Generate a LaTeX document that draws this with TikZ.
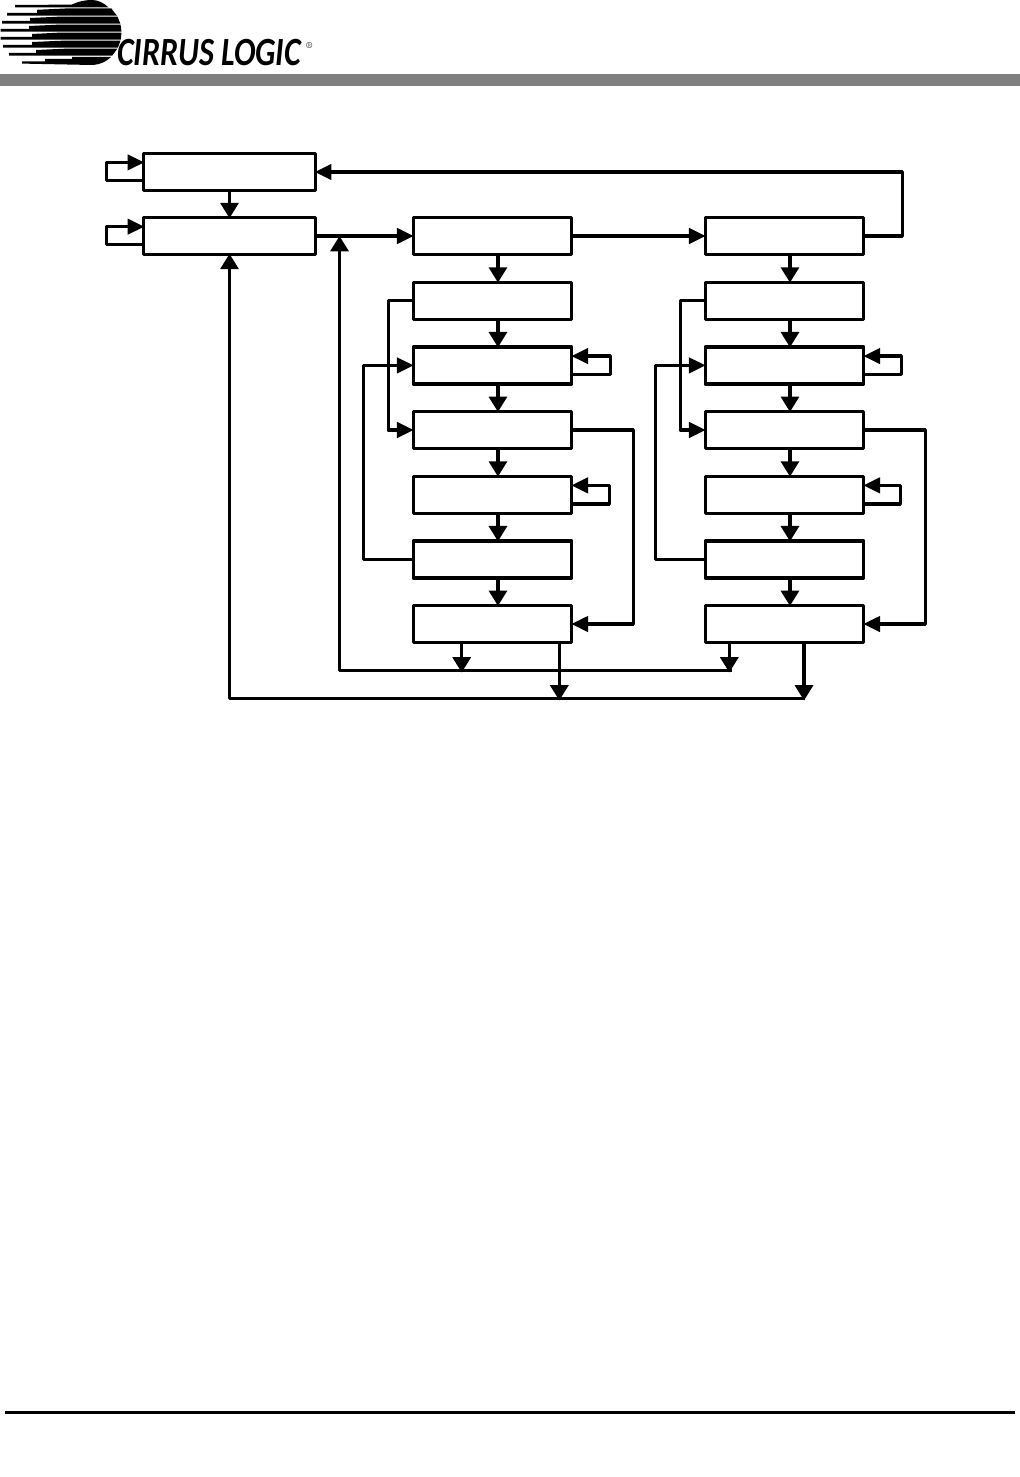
\documentclass[tikz,border=0pt]{standalone}
\usepackage{fontspec}
\usepackage{tikz}
\usetikzlibrary{arrows.meta}
\newfontfamily\logofont{Carlito}
\definecolor{bargray}{HTML}{808080}

\begin{document}
\begin{tikzpicture} [x=0.75pt,y=-0.75pt,
    block/.style={draw,line width=2.4pt,line join=round,inner sep=0pt,minimum width=118.9pt,minimum height=27.75pt},
    wideblock/.style={block,minimum width=128.5pt,minimum height=27.3pt},
    link/.style={line width=2.4pt,line join=round,shorten >=-1.5pt,-{Triangle[length=12.5pt,width=11.5pt]}},
    drop/.style={line width=2.4pt,line join=round,shorten >=-1.5pt,-{Triangle[length=11.5pt,width=13.5pt]}}]
    \useasboundingbox (0,0) rectangle (1020,1477);

    % header
    \fill [bargray] (0,74) rectangle (1020,86); % grey bar
    \foreach \t/\b/\mid/\wed/\tip in {8.5/15.6/65/37/7, 16.7/23.6/58/30/2, 24.7/31.6/57/29/0.5, 32.7/39.6/58/32/0.5, 40.7/47.6/62/32/3, 48.7/55.6/65/36/9} {
      \fill ({88+sqrt(1122-(\t-32.5)^2)},\t) -- (\mid,\t) -- (\wed,\t+1.3) -- (\wed,\b-2.6) -- (\tip,\b-2.6) -- (\tip,\b)
            -- ({88+sqrt(1122-(\b-32.5)^2)},\b) -- cycle;
    }
    \fill (15,4.8) -- (44,4.8) -- (72,4.5) .. controls (78,1.5) and (85,0) .. (92,0) .. controls (98,0) and (104,3) .. (108.5,7.4)
          -- (15,7.4) -- cycle; % top stripe
    \fill (22,61.3) -- (45,61.3) -- (45,59) -- (72,59) -- (72,57) -- (111,57) .. controls (107,61) and (101,64.5) .. (92,65)
          -- (22,63.6) -- cycle; % bottom stripe
    \node [anchor=base west,inner sep=0pt,xscale=0.8] (logotext) at (117,66)
          {\logofont\bfseries\itshape\fontsize{30}{30}\selectfont CIRRUS LOGIC};
    \node [anchor=north west,inner sep=0pt] (logomark) at (306,42) {\fontsize{6.5}{6.5}\selectfont\textregistered};

    % left pair
    \node [wideblock] (top1) at (229.5,172) {};
    \node [wideblock] (top2) at (229.5,236) {};
    \draw [link] ([yshift=-6.4pt]top1.west) -- ++(-36,0) |- ([yshift=7.2pt]top1.west);
    \draw [link] ([yshift=-6.6pt]top2.west) -- ++(-36,0) |- ([yshift=7pt]top2.west);
    \draw [drop] (top1.south) -- (top2.north);

    % both columns
    \foreach \col/\xc/\far in {a/492.5/37, b/784.5/36} {
      \foreach \row/\yc in {1/236, 2/300.7, 3/365.4, 4/430, 5/494.7, 6/559.4, 7/624} {
        \node [block] (\col\row) at (\xc,\yc) {};
      }
      \foreach \up/\down in {1/2, 2/3, 3/4, 4/5, 5/6, 6/7} {
        \draw [drop] ([xshift=4.1pt]\col\up.south) -- ([xshift=4.1pt]\col\down.north);
      }
      \draw [link] (\col2.west) -- ++(-23.5,0) |- (\col4.west); % skip
      \draw [link] (\col6.west) -- ++(-48,0) |- (\col3.west); % back
      \draw [link] (\col4.east) -- ++(60,0) |- (\col7.east); % skip
      \draw [link] ([yshift=-7pt]\col3.east) -- ++(\far,0) |- ([yshift=7pt]\col3.east);
      \draw [link] ([yshift=-7pt]\col5.east) -- ++(\far-1,0) |- ([yshift=7pt]\col5.east);
    }

    % between the columns
    \draw [link] (top2.east) -- (a1.west);
    \draw [link] (a1.east) -- (b1.west);
    \draw [link] (b1.east) -- ++(37,0) |- (top1.east);

    % bottom buses
    \coordinate (busa1) at (461.7,670.5);
    \coordinate (busa2) at (729.3,670.5);
    \coordinate (busb1) at (559.3,698.5);
    \coordinate (busb2) at (804,698.5);
    \coordinate (busaend) at (339.5,670.5);
    \coordinate (busbend) at (805.2,698.5);
    \coordinate (busarise) at (339.5,238);
    \coordinate (busaright) at (732,670.5);
    \draw [drop] (a7.south -| busa1) -- (busa1);
    \draw [drop] (b7.south -| busa2) -- (busa2);
    \draw [drop] (a7.south -| busb1) -- (busb1);
    \draw [drop] (b7.south -| busb2) -- (busb2);
    \draw [drop] (busaright) -- (busaend) -- (busarise);
    \draw [drop] (busbend) -| (top2.south);

    % footer
    \draw [line width=2.4pt] (5,1412.3) -- (1015,1412.3);
\end{tikzpicture}
\end{document}
